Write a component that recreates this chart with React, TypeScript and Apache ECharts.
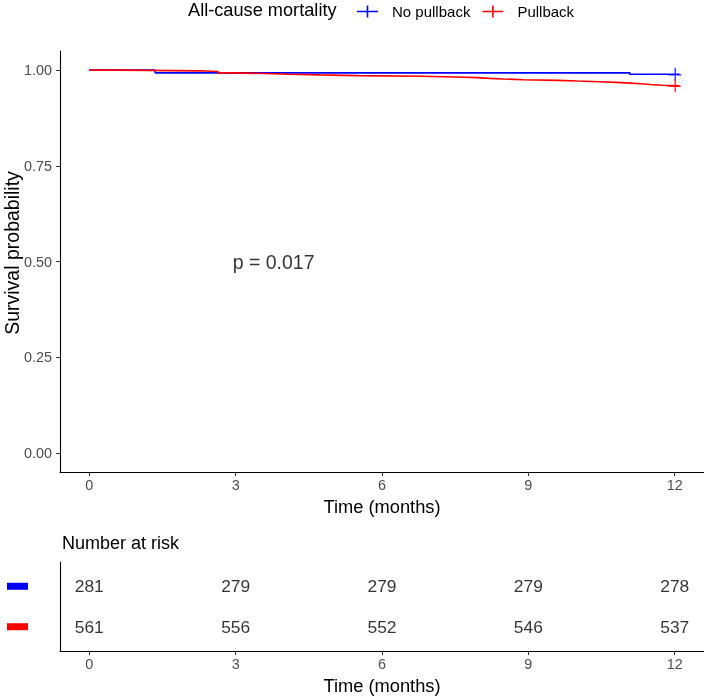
import React, { useEffect, useRef } from "react";
import * as echarts from "echarts";

const tickTimes = [0, 3, 6, 9, 12];
const yTicks = [0, 0.25, 0.5, 0.75, 1];
const groups = ["No pullback", "Pullback"];
const colors = ["#0000FF", "#FF0000"];

const blueTimes = [0, 1.35, 11.08, 12.1];
const blueSurv = [1, 0.9929, 0.9893, 0.9893];

const redTimes = [0, 0.6, 2.27, 2.64, 2.9, 3.6, 4.08, 4.73, 5.5, 6.8, 7.5, 7.95, 8.2, 8.5, 8.9, 9.6, 10.0, 10.47, 10.8, 11.08, 11.3, 11.5, 11.75, 12.1];
const redSurv = [1, 0.9982, 0.9964, 0.9929, 0.9911, 0.9893, 0.9875, 0.9857, 0.984, 0.9822, 0.9804, 0.9786, 0.9768, 0.975, 0.9733, 0.9715, 0.9697, 0.9679, 0.9661, 0.9643, 0.9625, 0.9607, 0.9589, 0.9589];

const censorTime = 12;
const blueCensorSurv = 0.9893;
const redCensorSurv = 0.9589;

// risk table rows (ggplot discrete levels: 1 = bottom, 2 = top)
const riskRows = [2, 1];
const riskNoPullback = [281, 279, 279, 279, 278];
const riskPullback = [561, 556, 552, 546, 537];

const pValueText = "p = 0.017";
const pValuePos = [3, 0.5];

const FONT = "Liberation Sans, Arial, sans-serif";
const PLUS = "path://M0,6.3h13v1.4h-13z M6.3,0h1.4v13h-1.4z";
const LEGEND_PLUS = "path://M0,5.2h21v1.6h-21z M9.7,0h1.6v12h-1.6z";

export default function App() {
  const ref = useRef<HTMLDivElement>(null);
  useEffect(() => {
    document.body.style.margin = "0";
    const chart = echarts.init(ref.current!, null, { renderer: "svg" });
    const axisLine = { show: true, onZero: false, lineStyle: { color: "#000", width: 1.1 } };
    const xTick = { show: true, length: 4, lineStyle: { color: "#333", width: 1 }, customValues: tickTimes };
    const xLabel = { customValues: tickTimes, color: "#4D4D4D", fontSize: 14.4, fontFamily: FONT, margin: 6 };
    const titleStyle = { fontSize: 18.3, color: "#000", fontFamily: FONT };
    const riskLabel = { show: true, position: "inside", formatter: (p: any) => String(p.value[2]), fontSize: 17.4, color: "#000", fontFamily: FONT };
    const option: any = {
      animation: false,
      textStyle: { fontFamily: FONT },
      title: {
        text: "All-cause mortality",
        left: 188,
        top: 0,
        padding: [0, 0, 0, 0],
        textStyle: { fontFamily: FONT, fontSize: 18.2, fontWeight: "normal", color: "#000", lineHeight: 20 },
      },
      legend: {
        left: 357,
        top: 4,
        padding: 0,
        itemWidth: 21,
        itemHeight: 12,
        itemGap: 12,
        icon: LEGEND_PLUS,
        data: groups,
        textStyle: { fontFamily: FONT, fontSize: 15, color: "#000", padding: [0, 0, 0, 9] },
      },
      grid: [
        { left: 60, top: 51, width: 644, height: 421, containLabel: false, outerBoundsMode: "none" },
        { left: 60, top: 562, width: 644, height: 89, containLabel: false, outerBoundsMode: "none" },
      ],
      xAxis: [
        {
          gridIndex: 0, type: "value", min: -0.6, max: 12.6,
          axisLine, axisTick: xTick, splitLine: { show: false }, axisLabel: xLabel,
          name: "Time (months)", nameLocation: "middle", nameGap: 25, nameTextStyle: titleStyle,
        },
        {
          gridIndex: 1, type: "value", min: -0.6, max: 12.6,
          axisLine, axisTick: xTick, splitLine: { show: false }, axisLabel: xLabel,
          name: "Time (months)", nameLocation: "middle", nameGap: 25, nameTextStyle: titleStyle,
        },
      ],
      yAxis: [
        {
          gridIndex: 0, type: "value", min: -0.05, max: 1.05,
          axisLine,
          axisTick: { show: true, length: 4, lineStyle: { color: "#333", width: 1 }, customValues: yTicks },
          splitLine: { show: false },
          axisLabel: { customValues: yTicks, color: "#4D4D4D", fontSize: 14.4, fontFamily: FONT, margin: 8, formatter: (v: number) => v.toFixed(2) },
        },
        {
          gridIndex: 1, type: "value", min: 0.4, max: 2.6,
          axisLine,
          axisTick: { show: false },
          splitLine: { show: false },
          axisLabel: {
            customValues: riskRows,
            margin: 32,
            formatter: (v: number) => (v === 2 ? "{b|}" : "{r|}"),
            rich: {
              b: { backgroundColor: colors[0], width: 21, height: 7 },
              r: { backgroundColor: colors[1], width: 21, height: 7 },
            },
          },
        },
      ],
      series: [
        {
          name: groups[0], type: "line", xAxisIndex: 0, yAxisIndex: 0, step: "end", showSymbol: false,
          lineStyle: { color: colors[0], width: 1.6 }, itemStyle: { color: colors[0] },
          data: blueTimes.map((t, i) => [t, blueSurv[i]]), z: 3,
        },
        {
          name: groups[1], type: "line", xAxisIndex: 0, yAxisIndex: 0, step: "end", showSymbol: false,
          lineStyle: { color: colors[1], width: 1.6 }, itemStyle: { color: colors[1] },
          data: redTimes.map((t, i) => [t, redSurv[i]]), z: 4,
        },
        {
          name: groups[0], type: "scatter", xAxisIndex: 0, yAxisIndex: 0, symbol: PLUS, symbolSize: 13,
          itemStyle: { color: colors[0] }, data: [[censorTime, blueCensorSurv]], silent: true,
        },
        {
          name: groups[1], type: "scatter", xAxisIndex: 0, yAxisIndex: 0, symbol: PLUS, symbolSize: 13,
          itemStyle: { color: colors[1] }, data: [[censorTime, redCensorSurv]], silent: true,
        },
        {
          type: "scatter", xAxisIndex: 0, yAxisIndex: 0, symbolSize: 1,
          itemStyle: { color: "transparent" }, silent: true,
          data: [pValuePos],
          label: {
            show: true, position: "inside", align: "left", offset: [-3, 0], formatter: pValueText,
            fontSize: 19.5, color: "#000", fontFamily: FONT,
          },
        },
        {
          type: "scatter", xAxisIndex: 1, yAxisIndex: 1, symbolSize: 1,
          itemStyle: { color: "transparent" }, silent: true,
          data: tickTimes.map((t, i) => [t, riskRows[0], riskNoPullback[i]]),
          label: riskLabel,
        },
        {
          type: "scatter", xAxisIndex: 1, yAxisIndex: 1, symbolSize: 1,
          itemStyle: { color: "transparent" }, silent: true,
          data: tickTimes.map((t, i) => [t, riskRows[1], riskPullback[i]]),
          label: riskLabel,
        },
      ],
      graphic: [
        {
          type: "text", left: 62, top: 534,
          style: { text: "Number at risk", fontSize: 18, fill: "#000", fontFamily: FONT },
        },
        {
          type: "text", x: 12, y: 253, rotation: Math.PI / 2,
          style: { text: "Survival probability", fontSize: 19.5, fill: "#000", fontFamily: FONT, align: "center", verticalAlign: "middle" },
        },
      ],
    };
    chart.setOption(option);
    return () => chart.dispose();
  }, []);
  return <div ref={ref} style={{ position: "fixed", left: 0, top: 0, width: 704, height: 697 }} />;
}
